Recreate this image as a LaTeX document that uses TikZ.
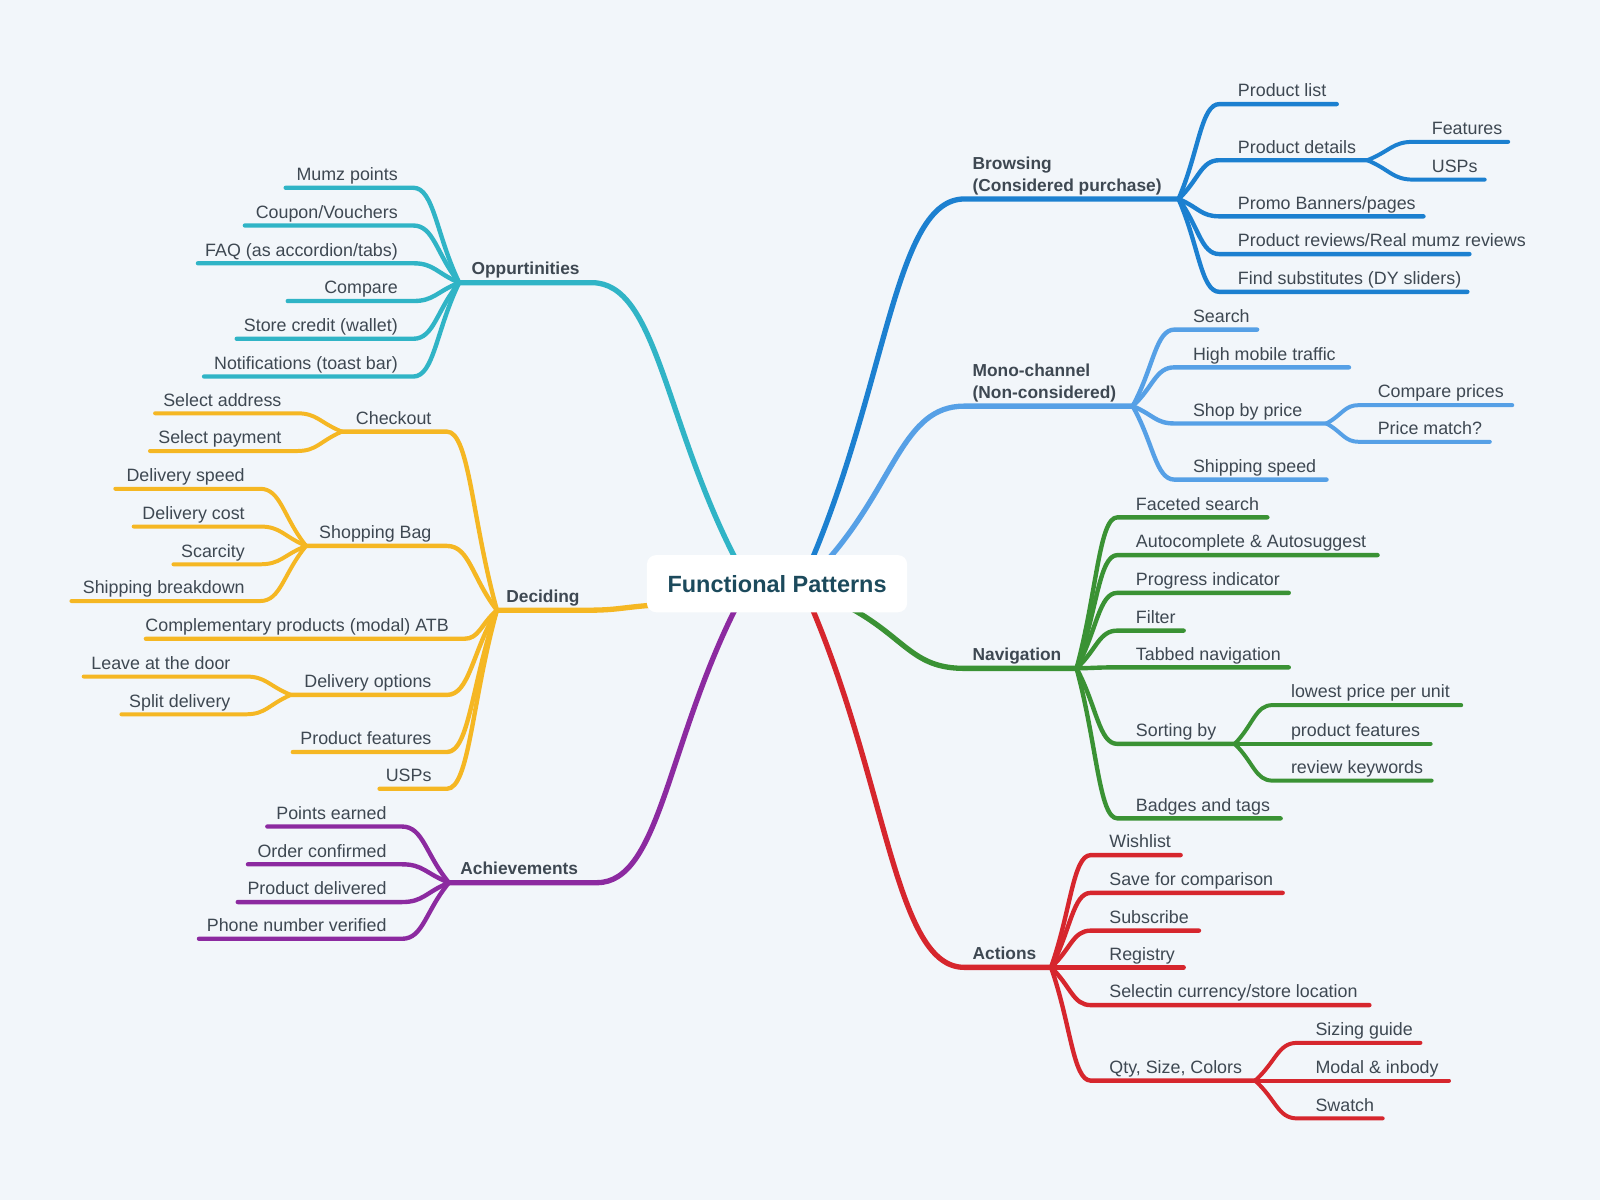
\documentclass[tikz,border=0pt]{standalone}
\usepackage{fontspec}
\setmainfont{Liberation Sans}
\usetikzlibrary{calc}
\definecolor{bg}{RGB}{242,246,250}
\definecolor{txt}{RGB}{62,72,82}
\definecolor{ctext}{RGB}{28,74,92}
\definecolor{cteal}{RGB}{48,180,198}
\definecolor{cblue}{RGB}{28,128,208}
\definecolor{clblue}{RGB}{86,160,230}
\definecolor{cgreen}{RGB}{58,146,52}
\definecolor{cred}{RGB}{214,38,45}
\definecolor{cpurple}{RGB}{140,42,160}
\definecolor{cyellow}{RGB}{245,183,35}
\tikzset{
  lbl/.style={font=\fontsize{17.5}{20}\selectfont, text=txt, inner sep=0pt},
  lblR/.style={lbl, anchor=base west},
  lblL/.style={lbl, anchor=base east},
  head/.style={font=\bfseries\fontsize{17}{21}\selectfont, text=txt, inner sep=0pt, align=left},
  br/.style={line cap=round, line join=round, to path={.. controls ($(\tikztostart)!0.5!(\tikztotarget)$) and ($(\tikztostart |- \tikztotarget)!0.55!(\tikztotarget)$) .. (\tikztotarget) \tikztonodes}},
  mainbr/.style={br, line width=5.2pt},
  kidbr/.style={br, line width=4.3pt},
  subbr/.style={br, line width=3.9pt},
}
\newcommand\kidR[7]{%
  \coordinate (#3-c) at ({#4-18},#5);
  \coordinate (#3-e) at (#6,#5);
  \node[lblR] (#3) at (#4,{#5-7}) {#7};
  \draw[#1] (#2) to (#3-c) -- (#3-e);}
\newcommand\kidL[7]{%
  \coordinate (#3-c) at ({#4+15},#5);
  \coordinate (#3-e) at (#6,#5);
  \node[lblL] (#3) at (#4,{#5-7}) {#7};
  \draw[#1] (#2) to (#3-c) -- (#3-e);}
\begin{document}
\begin{tikzpicture}[x=1pt,y=-1pt]
\fill[bg] (0,0) rectangle (1568,1176);
\useasboundingbox (0,0) rectangle (1568,1176);

% main coordinates
\coordinate (sO) at (722,550); \coordinate (cO) at (580,277); \coordinate (jO) at (450,277);
\coordinate (sD) at (640,593); \coordinate (cD) at (575,598); \coordinate (jD) at (487,598);
\coordinate (sA) at (722,594); \coordinate (cA) at (585,865); \coordinate (jA) at (440,865);
\coordinate (sB) at (795,550); \coordinate (cB) at (945,195); \coordinate (jB) at (1155,195);
\coordinate (sM) at (810,550); \coordinate (cM) at (945,398); \coordinate (jM) at (1110,398);
\coordinate (sN) at (830,594); \coordinate (cN) at (945,655); \coordinate (jN) at (1055,655);
\coordinate (sC) at (795,594); \coordinate (cC) at (945,948); \coordinate (jC) at (1030,948);

% main branches
\draw[mainbr, cteal] (sO) to (cO) -- (jO);
\draw[mainbr, cyellow] (sD) to (cD) -- (jD);
\draw[mainbr, cpurple] (sA) to (cA) -- (jA);
\draw[mainbr, cblue] (sB) to (cB) -- (jB);
\draw[mainbr, clblue] (sM) to (cM) -- (jM);
\draw[mainbr, cgreen] (sN) to (cN) -- (jN);
\draw[mainbr, cred] (sC) to (cC) -- (jC);

% headings
\node[head, anchor=base west] (hO) at (462,269) {Oppurtinities};
\node[head, anchor=base west] (hD) at (496,590) {Deciding};
\node[head, anchor=base west] (hA) at (451,857) {Achievements};
\node[head, anchor=south west] (hB) at (953,191) {Browsing\\(Considered purchase)};
\node[head, anchor=south west] (hM) at (953,394) {Mono-channel\\(Non-considered)};
\node[head, anchor=base west] (hN) at (953,647) {Navigation};
\node[head, anchor=base west] (hC) at (953,940) {Actions};

% Opportunities
\kidL{kidbr,cteal}{jO}{o1}{390}{184}{280}{Mumz points}
\kidL{kidbr,cteal}{jO}{o2}{390}{221}{240}{Coupon/Vouchers}
\kidL{kidbr,cteal}{jO}{o3}{390}{258}{194}{FAQ (as accordion/tabs)}
\kidL{kidbr,cteal}{jO}{o4}{390}{295}{282}{Compare}
\kidL{kidbr,cteal}{jO}{o5}{390}{332}{232}{Store credit (wallet)}
\kidL{kidbr,cteal}{jO}{o6}{390}{369}{200}{Notifications (toast bar)}

% Deciding
\kidL{kidbr,cyellow}{jD}{d1}{423}{423}{335}{Checkout}
\kidL{subbr,cyellow}{d1-e}{d11}{276}{405}{152}{Select address}
\kidL{subbr,cyellow}{d1-e}{d12}{276}{442}{147}{Select payment}
\kidL{kidbr,cyellow}{jD}{d2}{423}{535}{300}{Shopping Bag}
\kidL{subbr,cyellow}{d2-e}{d21}{240}{479}{113}{Delivery speed}
\kidL{subbr,cyellow}{d2-e}{d22}{240}{516}{131}{Delivery cost}
\kidL{subbr,cyellow}{d2-e}{d23}{240}{553}{170}{Scarcity}
\kidL{subbr,cyellow}{d2-e}{d24}{240}{589}{70}{Shipping breakdown}
\kidL{kidbr,cyellow}{jD}{d3}{440}{626}{143}{Complementary products (modal) ATB}
\kidL{kidbr,cyellow}{jD}{d4}{423}{681}{285}{Delivery options}
\kidL{subbr,cyellow}{d4-e}{d41}{226}{663}{82}{Leave at the door}
\kidL{subbr,cyellow}{d4-e}{d42}{226}{700}{119}{Split delivery}
\kidL{kidbr,cyellow}{jD}{d5}{423}{737}{287}{Product features}
\kidL{kidbr,cyellow}{jD}{d6}{423}{773}{372}{USPs}

% Achievements
\kidL{kidbr,cpurple}{jA}{a1}{379}{810}{262}{Points earned}
\kidL{kidbr,cpurple}{jA}{a2}{379}{847}{243}{Order confirmed}
\kidL{kidbr,cpurple}{jA}{a3}{379}{884}{233}{Product delivered}
\kidL{kidbr,cpurple}{jA}{a4}{379}{920}{195}{Phone number verified}

% Browsing
\kidR{kidbr,cblue}{jB}{b1}{1213}{102}{1310}{Product list}
\kidR{kidbr,cblue}{jB}{b2}{1213}{157}{1340}{Product details}
\kidR{subbr,cblue}{b2-e}{b21}{1403}{139}{1478}{Features}
\kidR{subbr,cblue}{b2-e}{b22}{1403}{176}{1455}{USPs}
\kidR{kidbr,cblue}{jB}{b3}{1213}{212}{1395}{Promo Banners/pages}
\kidR{kidbr,cblue}{jB}{b4}{1213}{249}{1440}{Product reviews/Real mumz reviews}
\kidR{kidbr,cblue}{jB}{b5}{1213}{286}{1438}{Find substitutes (DY sliders)}

% Mono-channel
\kidR{kidbr,clblue}{jM}{m1}{1169}{323}{1232}{Search}
\kidR{kidbr,clblue}{jM}{m2}{1169}{360}{1322}{High mobile traffic}
\kidR{kidbr,clblue}{jM}{m3}{1169}{415}{1300}{Shop by price}
\kidR{subbr,clblue}{m3-e}{m31}{1350}{397}{1482}{Compare prices}
\kidR{subbr,clblue}{m3-e}{m32}{1350}{433}{1460}{Price match?}
\kidR{kidbr,clblue}{jM}{m4}{1169}{470}{1300}{Shipping speed}

% Navigation
\kidR{kidbr,cgreen}{jN}{n1}{1113}{507}{1242}{Faceted search}
\kidR{kidbr,cgreen}{jN}{n2}{1113}{544}{1350}{Autocomplete \& Autosuggest}
\kidR{kidbr,cgreen}{jN}{n3}{1113}{581}{1263}{Progress indicator}
\kidR{kidbr,cgreen}{jN}{n4}{1113}{618}{1160}{Filter}
\kidR{kidbr,cgreen}{jN}{n5}{1113}{654}{1263}{Tabbed navigation}
\kidR{kidbr,cgreen}{jN}{n6}{1113}{729}{1210}{Sorting by}
\kidR{subbr,cgreen}{n6-e}{n61}{1265}{691}{1432}{lowest price per unit}
\kidR{subbr,cgreen}{n6-e}{n62}{1265}{729}{1402}{product features}
\kidR{subbr,cgreen}{n6-e}{n63}{1265}{765}{1403}{review keywords}
\kidR{kidbr,cgreen}{jN}{n7}{1113}{802}{1255}{Badges and tags}

% Actions
\kidR{kidbr,cred}{jC}{c1}{1087}{838}{1157}{Wishlist}
\kidR{kidbr,cred}{jC}{c2}{1087}{875}{1257}{Save for comparison}
\kidR{kidbr,cred}{jC}{c3}{1087}{912}{1175}{Subscribe}
\kidR{kidbr,cred}{jC}{c4}{1087}{948}{1160}{Registry}
\kidR{kidbr,cred}{jC}{c5}{1087}{985}{1342}{Selectin currency/store location}
\kidR{kidbr,cred}{jC}{c6}{1087}{1059}{1230}{Qty, Size, Colors}
\kidR{subbr,cred}{c6-e}{c61}{1289}{1022}{1392}{Sizing guide}
\kidR{subbr,cred}{c6-e}{c62}{1289}{1059}{1420}{Modal \& inbody}
\kidR{subbr,cred}{c6-e}{c63}{1289}{1096}{1355}{Swatch}

% central node
\node[fill=white, rounded corners=9pt, minimum width=255pt, minimum height=56pt, inner sep=0pt,
      font=\bfseries\fontsize{23}{26}\selectfont, text=ctext] (fp) at (761.5,572) {Functional Patterns};
\end{tikzpicture}
\end{document}
